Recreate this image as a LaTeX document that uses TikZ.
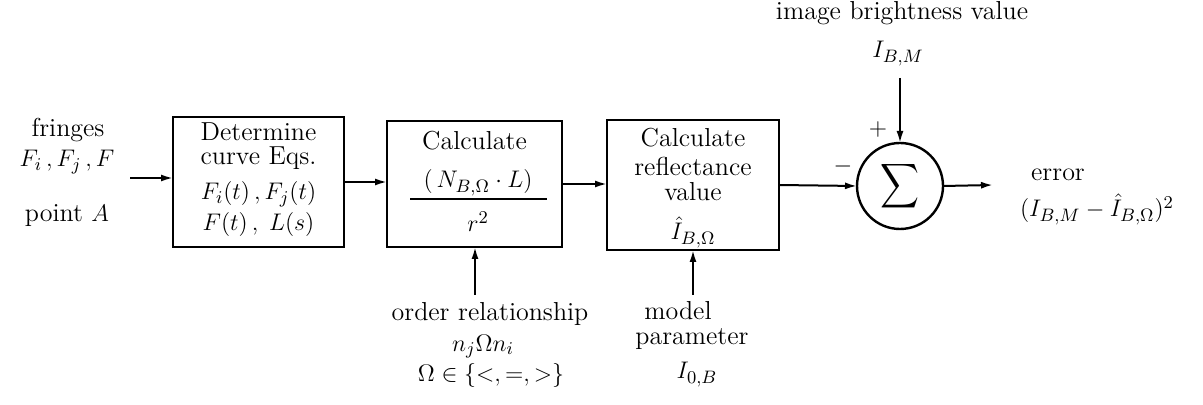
\documentclass[tikz,border=0pt]{standalone}
\usepackage{fontspec}
\usetikzlibrary{arrows.meta}
\begin{document}
\begin{tikzpicture}[x=0.5pt,y=-0.5pt,
  every node/.style={font=\fontsize{13}{15.5}\selectfont, inner sep=0pt, outer sep=0pt},
  blk/.style={draw, line width=1.3pt},
  tb/.style={anchor=base},
  arr/.style={line width=1pt, -{Latex[length=6pt,width=3.5pt]}}]
\useasboundingbox (0,0) rectangle (1203,405);
% blocks
\node[blk, minimum width=85.5pt, minimum height=65pt] (b1) at (258.5,182) {};
\node[blk, minimum width=87.5pt, minimum height=63pt] (b2) at (474.5,184) {};
\node[blk, minimum width=86pt, minimum height=65pt] (b3) at (693,185) {};
\node[draw, circle, line width=1.2pt, minimum size=43pt] (s) at (900,186) {\scalebox{1.35}[1.55]{$\displaystyle\sum$}};
% block texts
\node[tb] (t11) at (258.5,141) {Determine};
\node[tb] (t12) at (258.5,165) {curve Eqs.};
\node[tb] (t13) at (258.5,200) {$F_i(t)\,,F_j(t)$};
\node[tb] (t14) at (258.5,231) {$F(t)\,,\;L(s)$};
\node[tb] (t21) at (474.5,150) {Calculate};
\node[tb] (t22) at (478,188) {$(\,N_{B,\Omega}\cdot L)$};
\node[tb] (t23) at (478,232) {$r^2$};
\draw[line width=1pt] (410,199) -- (547,199);
\node[tb] (t31) at (693,147) {Calculate};
\node[tb] (t32) at (693,176) {reflectance};
\node[tb] (t33) at (693,201) {value};
\node[tb] (t34) at (693,240) {$\hat{I}_{B,\Omega}$};
% left input
\node[tb] (f1) at (68,137) {fringes};
\node[tb] (f2) at (67,167) {$F_i\,,F_j\,,F$};
\node[tb] (f3) at (67,222) {point $A$};
\coordinate (in) at (130,178);
\draw[arr] (in) -- (in -| b1.west);
% chain
\draw[arr] (b1.east) -- (b1.east -| b2.west);
\draw[arr] (b2.east) -- (b2.east -| b3.west);
\draw[arr] (b3.east) -- (s.west);
% top input
\node[tb] (im) at (902,20) {image brightness value};
\node[tb] (ibm) at (898,58) {$I_{B,M}$};
\coordinate (ct) at (900,78);
\draw[arr] (ct) -- (s.north);
\node (plus) at (878,130) {$+$};
\node (minus) at (843,167) {$-$};
% output
\coordinate (out) at (993,185);
\draw[arr] (s.east) -- (out);
\node[tb] (err) at (1058,181) {error};
\node[tb] (errf) at (1097,217) {$(I_{B,M}-\hat{I}_{B,\Omega})^2$};
% bottom inputs
\coordinate (c2) at (475,295);
\draw[arr] (c2) -- (c2 |- b2.south);
\node[tb] (o1) at (490,321) {order relationship};
\node[tb] (o2) at (483,351) {$n_j\Omega n_i$};
\node[tb] (o3) at (491,381) {$\Omega\in\{<,=,>\}$};
\coordinate (c3) at (693,295);
\draw[arr] (c3) -- (c3 |- b3.south);
\node[tb] (m1) at (678,320) {model};
\node[tb] (m2) at (692,344) {parameter};
\node[tb] (m3) at (697,379) {$I_{0,B}$};
\end{tikzpicture}
\end{document}
